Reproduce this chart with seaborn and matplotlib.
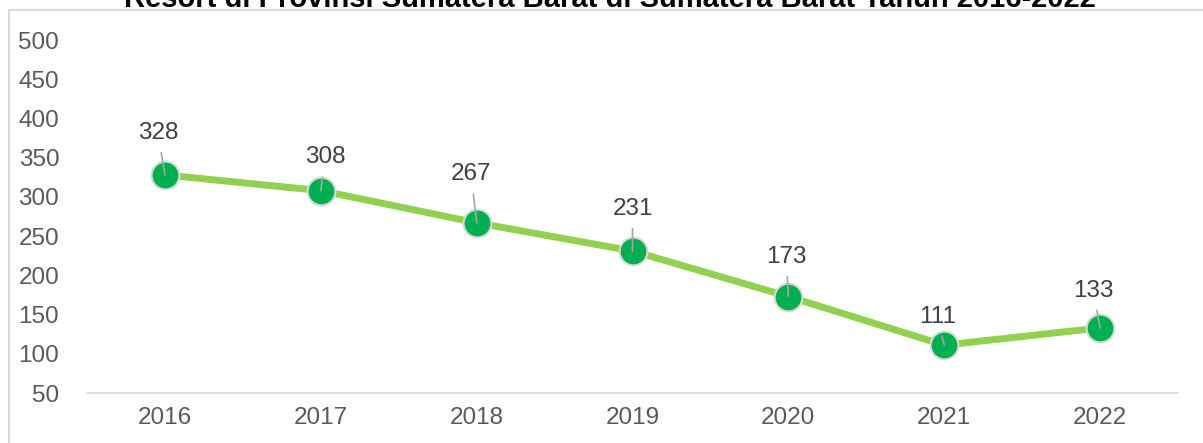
import matplotlib
import seaborn as sns

matplotlib.use("Agg")
import matplotlib.pyplot as plt  # noqa: E402
from matplotlib.patches import Rectangle  # noqa: E402

sns.set_theme(style="white")
plt.rcParams["font.family"] = ["Liberation Sans", "DejaVu Sans"]

TITLE = "Resort di Provinsi Sumatera Barat di Sumatera Barat Tahun 2016-2022"
YEARS = [2016, 2017, 2018, 2019, 2020, 2021, 2022]
VALUES = [328, 308, 267, 231, 173, 111, 133]
Y_TICKS = [50, 100, 150, 200, 250, 300, 350, 400, 450, 500]
# label offsets in points (dx, dy) relative to each marker
LABEL_OFFSETS = [(-5, 22.5), (3, 16), (-4, 27), (0, 22.5), (-1.5, 20.5), (-5, 12.5), (-5, 19)]

LINE, DOT, EDGE, GRAY = "#92D050", "#00B050", "#D9D9D9", "#595959"

fig = plt.figure(figsize=(12.03, 4.43), dpi=100)
ax = fig.add_axes([87 / 1203, 1 - 393 / 443, (1178 - 87) / 1203, (393 - 40) / 443])

sns.lineplot(
    x=YEARS, y=VALUES, color=LINE, linewidth=5, marker="o", markersize=20,
    markerfacecolor=DOT, markeredgecolor=EDGE, markeredgewidth=1.5, ax=ax,
)

for x, y, (dx, dy) in zip(YEARS, VALUES, LABEL_OFFSETS):
    ax.annotate(
        f"{y}", xy=(x, y), xytext=(dx, dy), textcoords="offset points",
        ha="center", va="bottom", fontsize=17.5, color="#404040",
        arrowprops=dict(arrowstyle="-", color="#A6A6A6", lw=1.2, shrinkA=4, shrinkB=0),
        zorder=5,
    )

ax.set_xlim(YEARS[0] - 0.5, YEARS[-1] + 0.5)
ax.set_ylim(Y_TICKS[0], Y_TICKS[-1])
ax.set_xticks(YEARS)
ax.set_xticklabels([str(y) for y in YEARS])
ax.set_yticks(Y_TICKS)
ax.tick_params(axis="both", length=0, labelsize=17.5, labelcolor=GRAY)
ax.tick_params(axis="x", pad=10)
ax.tick_params(axis="y", pad=20)
ax.set_xlabel("")
ax.set_ylabel("")
for side in ["top", "right", "left"]:
    ax.spines[side].set_visible(False)
ax.spines["bottom"].set_color(EDGE)
ax.spines["bottom"].set_linewidth(1.2)
ax.grid(False)

# chart frame
fig.patches.append(Rectangle((9 / 1203, -0.1), 1.2, 1 - 10 / 443 + 0.1,
                             transform=fig.transFigure, fill=False,
                             edgecolor=EDGE, linewidth=1.5))
fig.text(610 / 1203, 1 - 7 / 443, TITLE, ha="center", va="baseline",
         fontsize=21, fontweight="bold", color="black")

fig.savefig("out.png", dpi=100)
